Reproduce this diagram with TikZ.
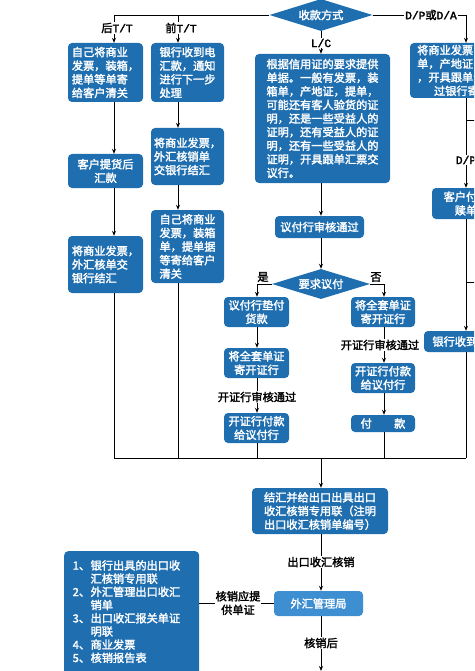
\documentclass[tikz,border=0pt]{standalone}
\usepackage{fontspec}
\setmainfont[BoldFont={Noto Sans CJK SC},BoldFeatures={FakeBold=2.2}]{Noto Sans CJK SC}
\newfontfamily\lat[BoldFont={Liberation Mono},BoldFeatures={FakeBold=2.5}]{Liberation Mono}
\usetikzlibrary{shapes.geometric,arrows.meta}
\definecolor{boxblue}{RGB}{31,110,176}
\definecolor{lightblue}{RGB}{62,142,210}
\begin{document}
\begin{tikzpicture}[x=1pt,y=-1pt,
  bx/.style={fill=boxblue, rounded corners=4pt, text=white, inner sep=0pt,
    font=\bfseries\fontsize{11.2}{13.6}\selectfont},
  lbox/.style={bx, align=left},
  cbox/.style={bx, align=center},
  dmd/.style={diamond, aspect=3.2, fill=boxblue, text=white, inner sep=0pt,
    font=\bfseries\fontsize{11.2}{13.6}\selectfont},
  lbl/.style={fill=white, inner sep=1pt, text=black, align=center,
    font=\bfseries\fontsize{11.2}{13}\selectfont},
  ln/.style={draw=black, line width=0.9pt},
  ar/.style={ln, -{Stealth[length=5pt,width=4pt]}}]
\useasboundingbox (0,0) rectangle (474,671);
\clip (0,0) rectangle (474,671);

% lanes
\coordinate (xA) at (114,0);
\coordinate (xB) at (178,0);
\coordinate (xC) at (321,0);
\coordinate (xD) at (257,0);
\coordinate (xE) at (384,0);
\coordinate (xF) at (466,0);
\coordinate (bot) at (0,458);
\coordinate (rb1) at (480,120);
\coordinate (rb2) at (480,282);
\coordinate (endp) at (321,671);

% nodes
\node[dmd, minimum width=103pt, minimum height=32pt] (d1) at (321,15) {收款方式};
\node[lbox, minimum width=75pt, minimum height=59pt] (b1) at (105.5,72.5) {自己将商业\\发票，装箱，\\提单等单寄\\给客户清关};
\node[lbox, minimum width=73pt, minimum height=59pt] (b2) at (187.5,72.5) {银行收到电\\汇款，通知\\进行下一步\\处理};
\node[lbox, minimum width=73pt, minimum height=57pt] (b3) at (187.5,156.5) {将商业发票，\\外汇核销单\\交银行结汇};
\node[cbox, minimum width=75pt, minimum height=34pt] (b4) at (105.5,171) {客户提货后\\汇款};
\node[lbox, minimum width=75pt, minimum height=57pt] (b5) at (105.5,264.5) {将商业发票，\\外汇核单交\\银行结汇};
\node[lbox, minimum width=73pt, minimum height=73pt] (b6) at (187.5,246.5) {自己将商业\\发票，装箱\\单，提单据\\等寄给客户\\清关};
\node[lbox, minimum width=135pt, minimum height=129pt] (lc) at (322.5,118.5) {根据信用证的要求提供\\单据。一般有发票，装\\箱单，产地证，提单，\\可能还有客人验货的证\\明，还是一些受益人的\\证明，还有受益人的证\\明，还有一些受益人的\\证明，开具跟单汇票交\\议行。};
\node[cbox, minimum width=89pt, minimum height=22pt] (ap) at (319.5,227) {议付行审核通过};
\node[dmd, minimum width=98pt, minimum height=30pt] (d2) at (321,284) {要求议付};
\node[cbox, minimum width=65pt, minimum height=30pt] (y1) at (256.5,312) {议付行垫付\\货款};
\node[cbox, minimum width=65pt, minimum height=30pt] (y2) at (256.5,363) {将全套单证\\寄开证行};
\node[cbox, minimum width=65pt, minimum height=30pt] (y3) at (256.5,428) {开证行付款\\给议付行};
\node[cbox, minimum width=64pt, minimum height=30pt] (n1) at (383,312) {将全套单证\\寄开证行};
\node[cbox, minimum width=64pt, minimum height=30pt] (n2) at (383,378) {开证行付款\\给议付行};
\node[cbox, minimum width=64pt, minimum height=17pt] (n3) at (383,423.5) {付\hspace{2em}款};
\node[cbox, minimum width=104pt, minimum height=55pt] (r1) at (462,70.5) {将商业发票，装箱\\单，产地证，提单\\，开具跟单汇票通\\过银行寄单};
\node[cbox, minimum width=68pt, minimum height=31pt] (r2) at (466,203.5) {客户付款\\赎单};
\node[cbox, minimum width=84pt, minimum height=21pt] (r3) at (466,341.5) {银行收到货款};
\node[lbox, minimum width=136pt, minimum height=46pt] (fx) at (320,511) {结汇并给出口出具出口\\收汇核销专用联（注明\\出口收汇核销单编号）};
\node[bx, fill=lightblue, align=center, minimum width=89pt, minimum height=25pt] (wg) at (318.5,603.5) {外汇管理局};
\node[bx, anchor=north west, align=left, text width=118pt, inner xsep=8.5pt, inner ysep=9pt,
  font=\bfseries\fontsize{11.2}{13.2}\selectfont] (list) at (64,551)
  {\makebox[1.6em][l]{1、}银行出具的出口收\\\makebox[1.6em][l]{}汇核销专用联\\\makebox[1.6em][l]{2、}外汇管理出口收汇\\\makebox[1.6em][l]{}销单\\\makebox[1.6em][l]{3、}出口收汇报关单证\\\makebox[1.6em][l]{}明联\\\makebox[1.6em][l]{4、}商业发票\\\makebox[1.6em][l]{5、}核销报告表\\~\\~};

% connectors: top
\draw[ar] (d1.west) -| (xA |- b1.north);
\draw[ar] (xB |- d1.west) -- (xB |- b2.north);
\draw[ar] (d1.east) -| (xF |- r1.north);
\draw[ar] (d1.south) -- (d1.south |- lc.north);
% T/T columns
\draw[ar] (xA |- b1.south) -- (xA |- b4.north);
\draw[ar] (xA |- b4.south) -- (xA |- b5.north);
\draw[ln] (xA |- b5.south) -- (xA |- bot);
\draw[ar] (xB |- b2.south) -- (xB |- b3.north);
\draw[ar] (xB |- b3.south) -- (xB |- b6.north);
\draw[ln] (xB |- b6.south) -- (xB |- bot);
% L/C column
\draw[ar] (xC |- lc.south) -- (xC |- ap.north);
\draw[ar] (xC |- ap.south) -- (d2.north);
\draw[ar] (d2.west) -| (xD |- y1.north);
\draw[ar] (d2.east) -| (xE |- n1.north);
\draw[ar] (xD |- y1.south) -- (xD |- y2.north);
\draw[ar] (xD |- y2.south) -- (xD |- y3.north);
\draw[ln] (xD |- y3.south) -- (xD |- bot);
\draw[ar] (xE |- n1.south) -- (xE |- n2.north);
\draw[ar] (xE |- n2.south) -- (xE |- n3.north);
\draw[ln] (xE |- n3.south) -- (xE |- bot);
% D/P D/A column
\draw[ar] (xF |- r1.south) -- (xF |- r2.north);
\draw[ln] (xF |- rb1) -- (rb1);
\draw[ar] (xF |- r2.south) -- (xF |- r3.north);
\draw[ln] (rb2) -- (xF |- rb2);
\draw[ln] (xF |- r3.south) -- (xF |- bot);
% bottom
\draw[ln] (xA |- bot) -- (xF |- bot);
\draw[ar] (xC |- bot) -- (xC |- fx.north);
\draw[ar] (xC |- fx.south) -- (xC |- wg.north);
\draw[ln] (list.east |- wg.west) -- (wg.west);
\draw[ar] (xC |- wg.south) -- (endp);

% labels
\node[lbl] (l1) at (117,28) {后{\lat T/T}};
\node[lbl] (l2) at (181,28) {前{\lat T/T}};
\node[lbl] (l3) at (431,15) {{\lat D/P}或{\lat D/A}};
\node[lbl] (l4) at (321,43) {{\lat L/C}};
\node[lbl, fill=none] (l5) at (263,277) {是};
\node[lbl, fill=none] (l6) at (376,277) {否};
\node[lbl] (l7) at (257,397) {开证行审核通过};
\node[lbl] (l8) at (380,345) {开证行审核通过};
\node[lbl] (l9) at (466,160) {{\lat D/P}};
\node[lbl] (l10) at (321,562) {出口收汇核销};
\node[lbl, font=\bfseries\fontsize{11.2}{13.6}\selectfont] (l11) at (238,603) {核销应提\\供单证};
\node[lbl] (l12) at (321,643) {核销后};
\end{tikzpicture}
\end{document}
